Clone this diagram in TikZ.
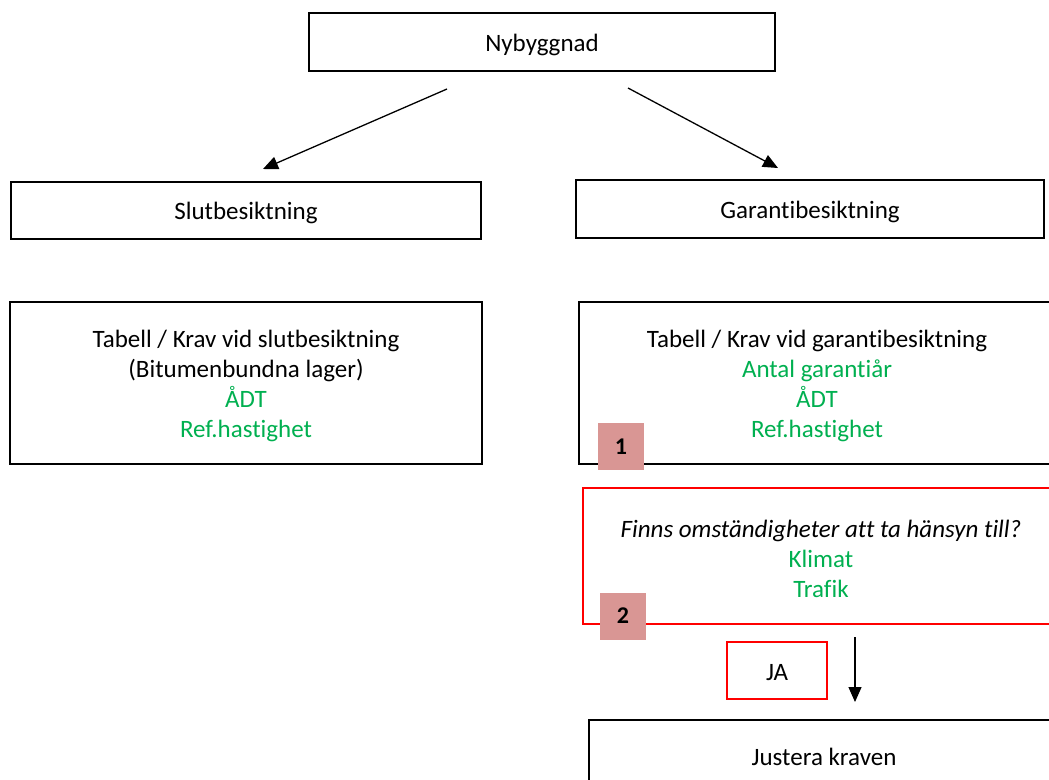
\documentclass[tikz,border=0pt]{standalone}
\usepackage{fontspec}
\setmainfont{Carlito}[Ligatures=NoCommon]
\usetikzlibrary{arrows.meta}
\definecolor{okgreen}{HTML}{00B050}
\definecolor{badgepink}{HTML}{D99694}
\definecolor{boxred}{HTML}{FF0000}
\begin{document}
\begin{tikzpicture}[x=1pt,y=-1pt,
  box/.style={draw=black,line width=1.5pt,inner sep=0pt},
  redbox/.style={box,draw=boxred},
  txt/.style={align=center,inner sep=0pt,yshift=-2.5pt,
    font=\fontsize{25}{30}\selectfont},
  badge/.style={fill=badgepink,inner sep=0pt,minimum width=46pt,minimum height=47pt,
    font=\fontsize{24}{28}\selectfont\bfseries},
  arr/.style={line width=1.3pt,-{Triangle[length=15pt,width=13pt]}}]
\useasboundingbox (0,0) rectangle (1049,779);
\clip (0,0) rectangle (1049,779);
\fill[white] (0,0) rectangle (1049,779);

\node[box,minimum width=466pt,minimum height=58pt,
  label={[txt]center:Nybyggnad}] (ny) at (542,42) {};
\node[box,minimum width=470pt,minimum height=57pt,
  label={[txt]center:Slutbesiktning}] (slut) at (246,210.5) {};
\node[box,minimum width=468pt,minimum height=58pt,
  label={[txt]center:Garantibesiktning}] (gar) at (810,209) {};

\node[box,minimum width=472pt,minimum height=162pt,
  label={[txt]center:{Tabell / Krav vid slutbesiktning\\(Bitumenbundna lager)\\
   \textcolor{okgreen}{ÅDT}\\\textcolor{okgreen}{Ref.hastighet}}}] (tabS) at (246,383) {};
\node[box,minimum width=476pt,minimum height=162pt,
  label={[txt]center:{Tabell / Krav vid garantibesiktning\\\textcolor{okgreen}{Antal garantiår}\\
   \textcolor{okgreen}{ÅDT}\\\textcolor{okgreen}{Ref.hastighet}}}] (tabG) at (817,383) {};
\node[badge] (b1) at (621,446.5) {1};

\node[redbox,minimum width=476pt,minimum height=136pt,
  label={[txt]center:{\textit{Finns omständigheter att ta hänsyn till?}\\\textcolor{okgreen}{Klimat}\\
   \textcolor{okgreen}{Trafik}}}] (fin) at (821,556) {};
\node[badge] (b2) at (623,616) {2};

\node[redbox,minimum width=100pt,minimum height=57pt,
  label={[txt]center:JA}] (ja) at (777,670.5) {};
\node[box,minimum width=470pt,minimum height=68pt,
  label={[txt]center:Justera kraven}] (just) at (824,754) {};

\coordinate (a1s) at (447,89);
\coordinate (a1e) at (263,169);
\coordinate (a2s) at (628,88);
\coordinate (a2e) at (778,168);
\coordinate (a3s) at (855,637);
\coordinate (a3e) at (855,702);
\draw[arr] (a1s) -- (a1e);
\draw[arr] (a2s) -- (a2e);
\draw[arr] (a3s) -- (a3e);
\end{tikzpicture}
\end{document}
